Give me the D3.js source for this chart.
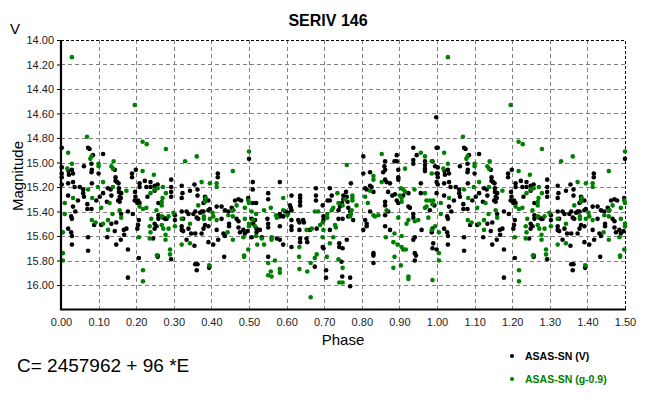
<!DOCTYPE html>
<html>
<head>
<meta charset="utf-8">
<script src="https://cdn.jsdelivr.net/npm/d3@7"></script>
<style>
  body { margin: 0; background: #fff; }
  svg { display: block; font-family: Arial, "Liberation Sans", sans-serif; }
</style>
</head>
<body>
<div id="chart"></div>
<script>
// phase / magnitude (phase 0..1, folded copy drawn at +1)
const vPoints = [
  [.002,14.88],[.002,15.04],[.002,15.09],[.002,15.12],[.002,15.18],
  [.072,14.88],[.076,14.89],[.061,15.03],[.081,15.01],[.082,15.06],[.081,15.08],[.085,14.94],[.100,15.09],[.112,14.93],
  [.029,15.06],[.032,15.09],[.020,15.07],[.021,15.10],[.019,15.17],[.032,15.16],[.036,15.20],[.019,15.27],[.050,15.20],
  [.059,15.22],[.059,15.25],[.061,15.28],[.045,15.31],[.038,15.40],[.032,15.36],[.027,15.44],[.029,15.46],[.019,15.54],
  [.027,15.57],[.029,15.60],[.029,15.67],[.070,15.38],[.070,15.34],[.081,15.38],[.082,15.17],[.094,15.31],[.103,15.28],
  [.112,15.25],[.125,15.21],[.132,15.22],[.145,15.15],[.149,15.16],[.153,15.17],[.154,15.21],[.154,15.24],[.160,15.25],
  [.159,15.29],[.156,15.28],[.152,15.31],[.156,15.32],[.145,15.12],[.143,15.06],[.134,15.27],[.122,15.32],[.134,15.50],
  [.147,15.49],[.143,15.56],[.147,15.67],[.123,15.61],[.072,15.61],[.072,15.72],[.159,15.63],[.167,15.55],[.174,15.54],
  [.168,15.59],[.178,15.71],[.178,15.94],[.189,15.09],[.189,15.12],[.199,15.06],[.197,15.24],[.198,15.28],[.196,15.31],
  [.205,15.31],[.203,15.33],[.209,15.33],[.209,15.17],[.209,15.20],[.223,15.15],[.227,15.20],[.230,15.28],[.238,15.16],
  [.238,15.20],[.249,15.19],[.249,15.23],[.207,15.47],[.205,15.51],[.203,15.54],[.207,15.78],[.249,15.50],[.249,15.54],
  [.245,15.62],[.088,15.51],[.107,15.51],[.160,15.42],[.178,15.40],[.191,15.42],
  [.293,15.14],[.293,15.20],[.293,15.24],[.293,15.28],[.257,15.18],[.321,15.19],[.323,15.25],[.321,15.29],[.343,15.23],
  [.363,15.22],[.363,15.27],[.355,15.18],[.383,15.28],[.383,15.31],[.379,15.33],[.392,15.31],[.417,15.09],[.417,15.12],
  [.414,15.36],[.427,15.36],[.436,15.39],[.454,15.37],[.458,15.39],[.463,15.31],[.472,15.30],[.479,15.31],[.498,15.29],
  [.500,14.97],[.259,15.33],[.259,15.43],[.259,15.46],[.272,15.45],[.281,15.46],[.277,15.46],[.254,15.52],[.303,15.43],
  [.321,15.40],[.334,15.40],[.325,15.46],[.339,15.42],[.352,15.42],[.357,15.40],[.361,15.45],[.365,15.46],[.370,15.41],
  [.374,15.40],[.379,15.40],[.392,15.39],[.396,15.38],[.303,15.47],[.321,15.52],[.321,15.55],[.325,15.56],[.339,15.54],
  [.346,15.58],[.357,15.58],[.334,15.63],[.355,15.68],[.374,15.58],[.379,15.54],[.383,15.51],[.392,15.52],[.392,15.65],
  [.405,15.67],[.414,15.55],[.418,15.63],[.432,15.58],[.436,15.60],[.427,15.46],[.447,15.50],[.447,15.52],[.445,15.40],
  [.467,15.46],[.472,15.48],[.472,15.53],[.476,15.57],[.485,15.55],[.489,15.58],[.496,15.56],[.507,15.61],[.434,15.77],
  [.357,15.83],[.363,15.83],[.361,15.88],[.257,15.76],[.257,15.77],[.293,15.79],[.394,15.86],
  [.510,15.16],[.510,15.22],[.510,15.33],[.519,15.33],[.582,15.16],[.551,15.25],[.551,15.30],[.613,15.27],[.636,15.27],
  [.636,15.29],[.636,15.32],[.636,15.35],[.609,15.35],[.611,15.37],[.613,15.39],[.596,15.40],[.604,15.41],[.678,15.21],
  [.678,15.27],[.678,15.31],[.696,15.35],[.709,15.31],[.715,15.31],[.720,15.27],[.715,15.21],[.738,15.39],[.742,15.36],
  [.747,15.33],[.758,15.24],[.760,15.28],[.762,15.32],[.751,15.30],[.751,15.27],[.738,15.46],[.749,15.46],[.507,15.46],
  [.516,15.47],[.511,15.50],[.520,15.54],[.520,15.57],[.529,15.55],[.534,15.61],[.549,15.46],[.551,15.50],[.551,15.53],
  [.582,15.42],[.582,15.44],[.591,15.44],[.582,15.52],[.574,15.62],[.582,15.63],[.591,15.67],[.613,15.47],[.613,15.52],
  [.613,15.55],[.613,15.69],[.631,15.47],[.634,15.49],[.644,15.47],[.646,15.49],[.634,15.55],[.636,15.62],[.636,15.65],
  [.653,15.62],[.655,15.65],[.662,15.55],[.698,15.44],[.698,15.47],[.680,15.54],[.715,15.55],[.696,15.69],[.698,15.70],
  [.675,15.85],[.705,15.88],[.705,15.94],[.740,15.66],[.740,15.69],[.749,15.70],[.746,15.81],[.748,15.93],[.769,15.94],
  [.769,16.01],[.551,15.77],
  [.804,14.95],[.937,14.88],[.893,14.94],[.946,14.94],[.937,14.98],[.937,15.01],[.862,14.99],[.887,14.99],[.893,14.99],
  [.968,14.99],[.968,15.02],[.968,15.05],[.968,15.07],[.988,14.99],[.995,15.03],[.999,14.88],[.999,15.09],[.999,15.16],
  [.804,15.09],[.822,15.08],[.857,15.08],[.862,15.06],[.860,15.03],[.897,15.06],[.897,15.14],[.897,15.12],[.862,15.14],
  [.866,15.16],[.875,15.17],[.771,15.17],[.809,15.21],[.813,15.22],[.822,15.19],[.826,15.20],[.831,15.24],[.870,15.24],
  [.881,15.27],[.888,15.26],[.910,15.27],[.924,15.25],[.957,15.17],[.957,15.25],[.999,15.25],[.981,15.39],[.993,15.35],
  [.862,15.32],[.862,15.35],[.893,15.31],[.897,15.33],[.822,15.40],[.809,15.47],[.813,15.50],[.813,15.52],[.804,15.55],
  [.870,15.40],[.862,15.43],[.862,15.52],[.875,15.55],[.924,15.36],[.928,15.37],[.937,15.42],[.937,15.45],[.941,15.61],
  [.937,15.63],[.941,15.74],[.944,15.76],[.941,15.80],[.959,15.55],[.986,15.57],[.988,15.54],[.990,15.66],[.988,15.70],
  [.999,15.71],[.777,15.47],[.764,15.37],[.769,15.40],[.764,15.44],[.760,15.63],[.831,15.74],[.831,15.76],[.831,15.82],
  [.998,14.63]
];

const gPoints = [
  [.029,14.14],[.196,14.53],[.069,14.79],[.019,14.92],[.078,14.97],[.081,14.95],[.100,15.01],[.100,15.03],[.134,15.03],
  [.138,15.05],[.140,14.99],[.029,15.01],[.017,15.05],[.217,14.83],[.228,14.85],[.247,15.10],[.217,15.07],[.112,15.16],
  [.138,15.20],[.174,15.23],[.072,15.22],[.098,15.20],[.010,15.33],[.010,15.42],[.032,15.29],[.083,15.29],[.129,15.33],
  [.107,15.37],[.156,15.39],[.137,15.42],[.082,15.47],[.092,15.49],[.112,15.50],[.125,15.47],[.160,15.45],[.125,15.55],
  [.209,15.36],[.218,15.38],[.227,15.37],[.238,15.25],[.249,15.22],[.240,15.46],[.236,15.52],[.238,15.57],[.236,15.62],
  [.255,15.76],[.207,15.61],[.005,15.57],[.005,15.74],[.005,15.80],[.218,15.88],[.218,15.97],
  [.279,14.89],[.361,14.95],[.330,14.99],[.457,15.07],[.500,14.91],[.374,15.16],[.414,15.17],[.414,15.20],[.396,15.17],
  [.383,15.32],[.385,15.29],[.365,15.35],[.271,15.20],[.279,15.25],[.270,15.29],[.268,15.32],[.268,15.35],[.257,15.21],
  [.254,15.39],[.299,15.41],[.268,15.44],[.286,15.44],[.268,15.51],[.272,15.54],[.286,15.54],[.303,15.52],[.278,15.59],
  [.278,15.63],[.290,15.71],[.290,15.75],[.321,15.46],[.343,15.50],[.321,15.67],[.343,15.66],[.380,15.44],[.380,15.46],
  [.396,15.46],[.403,15.41],[.405,15.44],[.414,15.47],[.445,15.43],[.457,15.44],[.458,15.39],[.467,15.35],[.489,15.37],
  [.498,15.31],[.500,15.33],[.507,15.40],[.489,15.46],[.500,15.50],[.500,15.52],[.443,15.57],[.457,15.63],[.485,15.61],
  [.498,15.71],[.487,15.76],[.487,15.77],[.394,15.84],
  [.591,15.29],[.558,15.37],[.540,15.39],[.519,15.42],[.511,15.47],[.516,15.52],[.519,15.60],[.534,15.62],[.522,15.67],
  [.540,15.67],[.560,15.61],[.560,15.63],[.572,15.43],[.574,15.45],[.591,15.39],[.602,15.43],[.653,15.55],[.667,15.54],
  [.675,15.40],[.684,15.40],[.689,15.51],[.696,15.49],[.698,15.55],[.696,15.61],[.708,15.42],[.708,15.45],[.720,15.39],
  [.724,15.37],[.729,15.51],[.731,15.53],[.735,15.25],[.738,15.33],[.749,15.35],[.755,15.30],[.724,15.61],[.715,15.66],
  [.707,15.77],[.680,15.75],[.675,15.78],[.664,15.82],[.633,15.77],[.634,15.87],[.655,15.89],[.582,15.87],[.582,15.90],
  [.558,15.89],[.560,15.93],[.551,15.92],[.569,15.80],[.551,15.82],[.738,15.79],[.749,15.86],[.740,15.98],[.749,15.98],
  [.634,15.69],[.664,16.10],
  [.853,14.93],[.957,14.92],[.760,15.02],[.968,14.95],[.986,14.99],[.915,15.05],[.986,15.09],[.831,15.11],[.831,15.14],
  [.853,15.16],[.822,15.23],[.775,15.27],[.775,15.29],[.775,15.31],[.786,15.35],[.773,15.39],[.771,15.42],[.769,15.44],
  [.809,15.28],[.816,15.33],[.831,15.43],[.835,15.44],[.844,15.43],[.866,15.39],[.904,15.21],[.910,15.22],[.915,15.24],
  [.901,15.27],[.906,15.29],[.906,15.32],[.940,15.22],[.968,15.25],[.972,15.31],[.981,15.31],[.990,15.31],[.988,15.34],
  [.972,15.36],[.968,15.37],[.977,15.45],[.897,15.45],[.924,15.47],[.919,15.50],[.941,15.48],[.950,15.47],[.986,15.55],
  [.995,15.52],[.864,15.61],[.887,15.58],[.884,15.65],[.895,15.67],[.906,15.60],[.906,15.69],[.910,15.71],[.917,15.71],
  [.887,15.77],[.904,15.84],[.884,15.86],[.924,15.93],[.924,15.95],[.988,15.96]
];

const xTicks = [0, .1, .2, .3, .4, .5, .6, .7, .8, .9, 1, 1.1, 1.2, 1.3, 1.4, 1.5];
const yTicks = [14, 14.2, 14.4, 14.6, 14.8, 15, 15.2, 15.4, 15.6, 15.8, 16];
const seriesNames = ["ASAS-SN (V)", "ASAS-SN (g-0.9)"];
const seriesColors = ["#000000", "#008000"];

const W = 662, H = 395;
const plot = {left: 61, right: 625, top: 40, bottom: 309.5};

const svg = d3.select("#chart").append("svg")
  .attr("width", W).attr("height", H);

const x = d3.scaleLinear().domain([0, 1.5]).range([plot.left, plot.right]);
const y = d3.scaleLinear().domain([14, 16.2]).range([plot.top, plot.bottom]);

// grid
svg.append("g").selectAll("line")
  .data(xTicks.filter(d => d > 0 && d < 1.5))
  .join("line")
  .attr("x1", d => Math.round(x(d)) + .5).attr("x2", d => Math.round(x(d)) + .5)
  .attr("y1", plot.top).attr("y2", plot.bottom)
  .attr("stroke", "#808080").attr("stroke-dasharray", "4,3");
svg.append("g").selectAll("line")
  .data(yTicks.filter(d => d > 14))
  .join("line")
  .attr("x1", plot.left).attr("x2", plot.right)
  .attr("y1", d => Math.round(y(d)) + .5).attr("y2", d => Math.round(y(d)) + .5)
  .attr("stroke", "#808080").attr("stroke-dasharray", "4,3");

// top and right frame, dashed
svg.append("path")
  .attr("d", `M${plot.left},${plot.top + .5}H${plot.right + .5}V${plot.bottom}`)
  .attr("fill", "none").attr("stroke", "#000").attr("stroke-dasharray", "3,2");

// fold: points of phase <= 0.5 are repeated one cycle later
function fold(pts) {
  return pts.concat(pts.filter(d => d[0] <= 0.5).map(d => [d[0] + 1, d[1]]));
}

[vPoints, gPoints].forEach(function (pts, i) {
  svg.append("g").selectAll("circle")
    .data(fold(pts))
    .join("circle")
    .attr("cx", d => x(d[0]))
    .attr("cy", d => y(d[1]))
    .attr("r", 2.3)
    .attr("fill", seriesColors[i]);
});

// axes
const yAxis = svg.append("g")
  .attr("transform", `translate(${plot.left},0)`)
  .call(d3.axisLeft(y).tickValues(yTicks).tickFormat(d3.format(".2f")).tickSize(4).tickPadding(3));
const xAxis = svg.append("g")
  .attr("transform", `translate(0,${plot.bottom})`)
  .call(d3.axisBottom(x).tickValues(xTicks).tickFormat(d3.format(".2f")).tickSize(0).tickPadding(9));
[yAxis, xAxis].forEach(function (g) {
  g.select(".domain").remove();
  g.selectAll("text").attr("font-size", "11px").attr("fill", "#222")
    .attr("font-family", "Arial, 'Liberation Sans', sans-serif");
});
yAxis.selectAll("line").attr("stroke", "#000");

svg.append("path")
  .attr("d", `M${plot.left},${plot.top}V${plot.bottom}H${plot.right + 1}`)
  .attr("fill", "none").attr("stroke", "#000").attr("stroke-width", 2.2);

// labels
svg.append("text").attr("x", 328).attr("y", 26).attr("text-anchor", "middle")
  .attr("font-size", "16px").attr("font-weight", "bold").text("SERIV 146");
svg.append("text").attr("x", 10).attr("y", 34).attr("font-size", "15px").text("V");
svg.append("text").attr("transform", "translate(23,176) rotate(-90)")
  .attr("text-anchor", "middle").attr("font-size", "15px").text("Magnitude");
svg.append("text").attr("x", 343).attr("y", 345).attr("text-anchor", "middle")
  .attr("font-size", "15px").text("Phase");
svg.append("text").attr("x", 17).attr("y", 372).attr("font-size", "19px")
  .text("C= 2457962 + 96 *E");

// legend
const legend = svg.append("g").selectAll("g")
  .data(seriesNames)
  .join("g")
  .attr("transform", (d, i) => `translate(512,${356 + i * 23})`);
legend.append("circle").attr("r", 2.1).attr("fill", (d, i) => seriesColors[i]);
legend.append("text").attr("x", 13).attr("dy", "0.35em")
  .attr("font-size", "10.5px").attr("font-weight", "bold")
  .attr("fill", (d, i) => seriesColors[i]).text(d => d);
</script>
</body>
</html>
